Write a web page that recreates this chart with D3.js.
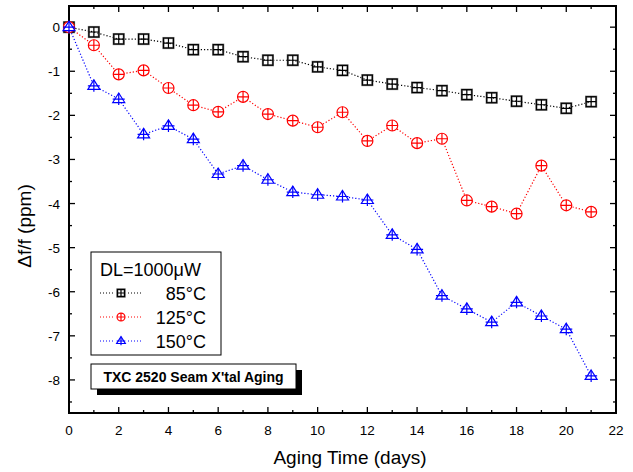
<!DOCTYPE html>
<html>
<head>
<meta charset="utf-8">
<script src="https://cdn.jsdelivr.net/npm/d3@7"></script>
<style>
  body { margin: 0; background: #fff; }
  text { font-family: Arial, "Liberation Sans", sans-serif; }
</style>
</head>
<body>
<div id="chart"></div>
<script>
// aging days
var days = [0,1,2,3,4,5,6,7,8,9,10,11,12,13,14,15,16,17,18,19,20,21];
var t85  = [0,-0.11,-0.27,-0.27,-0.36,-0.51,-0.51,-0.67,-0.75,-0.75,-0.9,-0.98,-1.2,-1.29,-1.37,-1.44,-1.53,-1.6,-1.68,-1.76,-1.84,-1.69];
var t125 = [0,-0.41,-1.07,-0.98,-1.38,-1.77,-1.92,-1.58,-1.97,-2.12,-2.27,-1.93,-2.58,-2.23,-2.63,-2.53,-3.93,-4.07,-4.23,-3.14,-4.04,-4.19];
var t150 = [0,-1.33,-1.63,-2.43,-2.24,-2.54,-3.33,-3.14,-3.46,-3.74,-3.8,-3.84,-3.92,-4.71,-5.04,-6.09,-6.39,-6.69,-6.24,-6.55,-6.85,-7.91];
var xTicks = [0,2,4,6,8,10,12,14,16,18,20,22];
var yTicks = [0,-1,-2,-3,-4,-5,-6,-7,-8];

var series = [
    {name: "85\u00b0C",  vals: t85,  color: "#000", marker: "square"},
    {name: "125\u00b0C", vals: t125, color: "#f00", marker: "circle"},
    {name: "150\u00b0C", vals: t150, color: "#00f", marker: "triangle"}
];

var W = 633, H = 472;
var m = {left: 69, right: 17, top: 6, bottom: 59};

var svg = d3.select("#chart").append("svg")
    .attr("width", W)
    .attr("height", H);

var x = d3.scaleLinear().domain([0, 22]).range([m.left, W - m.right]);
var y = d3.scaleLinear().domain([-8.75, 0.48]).range([H - m.bottom, m.top]);

// ticks, all pointing inwards
var g = svg.append("g");
var xMinor = d3.range(0, 23, 1), yMinor = d3.range(0, -8.75, -0.5);
var x0 = x(0), x1 = x(22), y0 = y.range()[0], y1 = y.range()[1];
xMinor.forEach(function(v) {
    var L = (v % 2 === 0) ? 6 : 3;
    g.append("line").attr("x1", x(v)).attr("x2", x(v)).attr("y1", y0).attr("y2", y0 - L);
    g.append("line").attr("x1", x(v)).attr("x2", x(v)).attr("y1", y1).attr("y2", y1 + L);
});
yMinor.forEach(function(v) {
    var L = (Math.abs(v) % 1 === 0) ? 6 : 3;
    g.append("line").attr("y1", y(v)).attr("y2", y(v)).attr("x1", x0).attr("x2", x0 + L);
    g.append("line").attr("y1", y(v)).attr("y2", y(v)).attr("x1", x1).attr("x2", x1 - L);
});
g.selectAll("line").attr("stroke", "#000").attr("stroke-width", 1.3);

svg.append("rect")
    .attr("x", x0).attr("y", y1)
    .attr("width", x1 - x0).attr("height", y0 - y1)
    .attr("fill", "none").attr("stroke", "#000").attr("stroke-width", 2);

svg.selectAll(".xl").data(xTicks).enter().append("text")
    .attr("x", function(d) { return x(d); })
    .attr("y", y0 + 22)
    .attr("text-anchor", "middle")
    .attr("font-size", 13.5)
    .text(function(d) { return d; });

svg.selectAll(".yl").data(yTicks).enter().append("text")
    .attr("x", x0 - 9)
    .attr("y", function(d) { return y(d) + 5; })
    .attr("text-anchor", "end")
    .attr("font-size", 13.5)
    .text(function(d) { return d; });

svg.append("text")
    .attr("x", 350)
    .attr("y", 464)
    .attr("text-anchor", "middle")
    .attr("font-size", 19)
    .text("Aging Time (days)");

svg.append("text")
    .attr("transform", "translate(31,226) rotate(-90)")
    .attr("text-anchor", "middle")
    .attr("font-size", 19)
    .text("\u0394f/f (ppm)");

// markers
function drawMarker(sel, type, color, cx, cy, s) {
    var mk = sel.append("g").attr("transform", "translate(" + cx + "," + cy + ") scale(" + s + ")")
        .attr("fill", "none").attr("stroke", color).attr("stroke-width", 1.2 / s);
    if (type === "square") {
        mk.append("rect").attr("x", -5).attr("y", -5).attr("width", 10).attr("height", 10)
            .attr("stroke", "#888").attr("stroke-width", 2.2 / s);
        mk.append("rect").attr("x", -5).attr("y", -5).attr("width", 10).attr("height", 10);
        mk.append("path").attr("d", "M-5,0H5M0,-5V5");
    } else if (type === "circle") {
        mk.append("circle").attr("r", 5.5).attr("fill", "#fff");
        mk.append("path").attr("d", "M-5.5,0H5.5M0,-5.5V5.5");
    } else {
        mk.append("path").attr("d", "M0,-6L6,3.5H-6Z").attr("fill", "#fff");
        mk.append("path").attr("d", "M-6,0H6M0,-6V6");
    }
}

var line = d3.line()
    .x(function(d, i) { return x(days[i]); })
    .y(function(d) { return y(d); });

series.forEach(function(s) {
    svg.append("path")
        .datum(s.vals)
        .attr("d", line)
        .attr("fill", "none")
        .attr("stroke", s.color)
        .attr("stroke-width", 1.2)
        .attr("stroke-dasharray", "1.2,2");
});
series.forEach(function(s) {
    s.vals.forEach(function(v, i) {
        drawMarker(svg, s.marker, s.color, x(days[i]), y(v), 1);
    });
});

// legend
var lg = svg.append("g");
lg.append("rect").attr("x", 91).attr("y", 252).attr("width", 130).attr("height", 103)
    .attr("fill", "#fff").attr("stroke", "#000").attr("stroke-width", 1);
lg.append("text").attr("x", 100).attr("y", 276).attr("font-size", 18).text("DL=1000\u03bcW");
series.forEach(function(s, i) {
    var ly = 293 + i * 24;
    [[100, 114], [128, 141]].forEach(function(seg) {
        lg.append("line").attr("x1", seg[0]).attr("x2", seg[1]).attr("y1", ly).attr("y2", ly)
            .attr("stroke", s.color).attr("stroke-width", 1).attr("stroke-dasharray", "1,2");
    });
    drawMarker(lg, s.marker, s.color, 121, ly, 0.72);
    lg.append("text").attr("x", 206).attr("y", ly + 7).attr("text-anchor", "end")
        .attr("font-size", 18).text(s.name);
});

// title box with shadow
svg.append("rect").attr("x", 97).attr("y", 370).attr("width", 205).attr("height", 25).attr("fill", "#000");
svg.append("rect").attr("x", 91).attr("y", 364).attr("width", 205).attr("height", 25)
    .attr("fill", "#fff").attr("stroke", "#000").attr("stroke-width", 1);
svg.append("text").attr("x", 193.5).attr("y", 382).attr("text-anchor", "middle")
    .attr("font-size", 14).attr("font-weight", "bold").text("TXC 2520 Seam X'tal Aging");
</script>
</body>
</html>
